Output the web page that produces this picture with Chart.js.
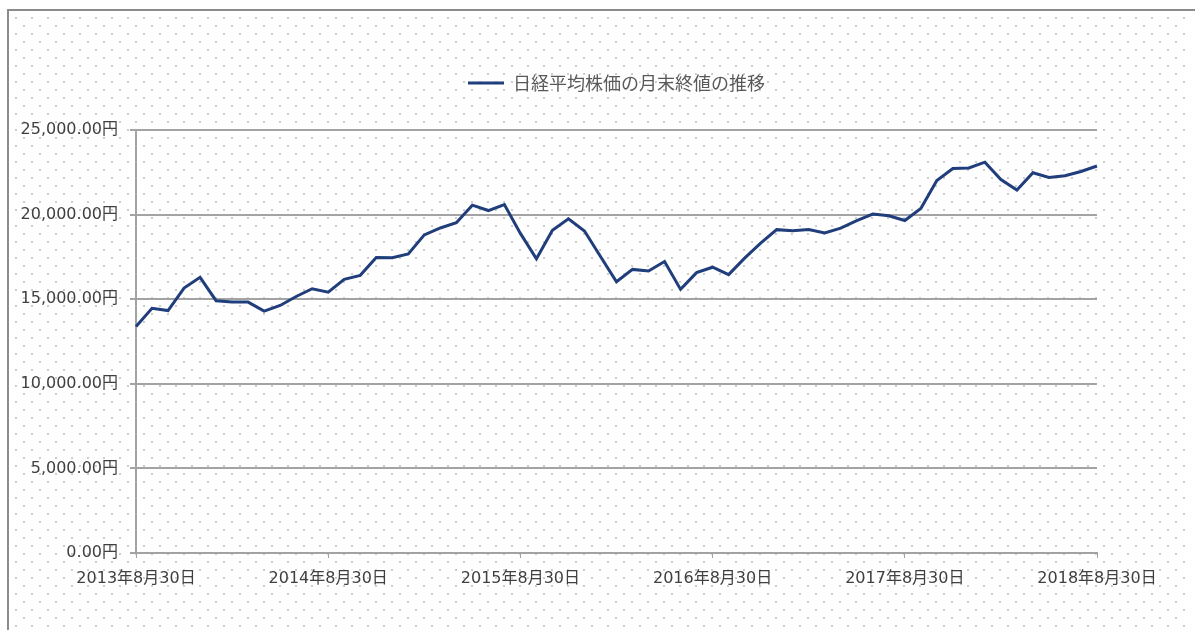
<!DOCTYPE html>
<html lang="ja">
<head>
<meta charset="utf-8">
<script src="https://cdn.jsdelivr.net/npm/chart.js@4.4.1/dist/chart.umd.min.js"></script>
<style>
html, body { margin: 0; padding: 0; background: #fff; overflow: hidden; }
#wrap { width: 1195px; height: 630px; position: relative; }
</style>
</head>
<body>
<div id="wrap"><canvas id="chart" width="1195" height="630"></canvas></div>
<script>
// monthly closes, Aug 2013 .. Aug 2018
const seriesLabel = '日経平均株価の月末終値の推移';
const closes2013 = [13390, 14460, 14330, 15660, 16290];
const closes2014 = [14910, 14840, 14830, 14300, 14630, 15160, 15620, 15420, 16170, 16410, 17460, 17450];
const closes2015 = [17670, 18800, 19210, 19520, 20560, 20240, 20590, 18890, 17390, 19080, 19750, 19030];
const closes2016 = [17520, 16030, 16760, 16670, 17230, 15580, 16570, 16890, 16450, 17430, 18310, 19110];
const closes2017 = [19040, 19120, 18910, 19200, 19650, 20030, 19930, 19650, 20360, 22010, 22720, 22760];
const closes2018 = [23100, 22070, 21450, 22470, 22200, 22300, 22550, 22870];
const tickLabels = ['2013年8月30日', '2014年8月30日', '2015年8月30日', '2016年8月30日', '2017年8月30日', '2018年8月30日'];

const values = [].concat(closes2013, closes2014, closes2015, closes2016, closes2017, closes2018);

// one category per month end
const categories = [];
for (let i = 0; i < values.length; i++) {
    const m = 7 + i;
    categories.push((2013 + Math.floor(m / 12)) + '年' + (m % 12 + 1) + '月');
}

const tickFont = { family: "'DejaVu Sans', 'Noto Sans CJK JP', sans-serif", size: 16 };
const gridGray = '#a3a3a3';

// excel-like dotted backdrop and frame
const backdrop = {
    id: 'backdrop',
    beforeLayout(chart) {
        // leave a gap under the legend, like the excel chart
        const lg = chart.legend;
        if (lg && !lg._gapPatched) {
            const fit = lg.fit;
            lg.fit = function () {
                fit.call(this);
                this.height += 28;
            };
            lg._gapPatched = true;
        }
    },
    beforeDraw(chart) {
        const { ctx, width, height } = chart;
        ctx.save();
        ctx.fillStyle = '#ffffff';
        ctx.fillRect(0, 0, width, height);
        ctx.fillStyle = '#cdcdcd';
        for (let y = 17; y < height; y += 16) {
            for (let x = 15; x < width; x += 16) ctx.fillRect(x, y, 2, 2);
        }
        for (let y = 25; y < height; y += 16) {
            for (let x = 23; x < width; x += 16) ctx.fillRect(x - 16 < 9 ? x : x - 16, y, 2, 2);
        }
        ctx.fillStyle = '#8c8c8c';
        ctx.fillRect(7, 9, width, 2);
        ctx.fillRect(7, 9, 2, height);
        ctx.restore();
    }
};

new Chart(document.getElementById('chart').getContext('2d'), {
    type: 'line',
    data: {
        labels: categories,
        datasets: [{
            label: seriesLabel,
            data: values,
            borderColor: '#203d7c',
            backgroundColor: '#203d7c',
            borderWidth: 3,
            pointRadius: 0,
            tension: 0
        }]
    },
    options: {
        responsive: false,
        animation: false,
        layout: { padding: { top: 46, left: 0, right: 98, bottom: 0 } },
        plugins: {
            legend: {
                position: 'top',
                fullSize: false,
                labels: {
                    usePointStyle: true,
                    pointStyle: 'line',
                    pointStyleWidth: 36,
                    padding: 28,
                    color: '#595959',
                    font: { family: "'Noto Sans CJK JP', sans-serif", size: 18 }
                }
            },
            tooltip: { enabled: false }
        },
        scales: {
            x: {
                afterFit(scale) { scale.height = 77; },
                grid: {
                    drawOnChartArea: false,
                    drawTicks: true,
                    tickLength: 5,
                    color: gridGray
                },
                border: { color: gridGray, width: 2 },
                ticks: {
                    autoSkip: false,
                    maxRotation: 0,
                    padding: 11,
                    color: '#404040',
                    font: tickFont,
                    callback: (v, i) => (i % 12 === 0 ? tickLabels[i / 12] : null)
                }
            },
            y: {
                min: 0,
                max: 25000,
                afterFit(scale) { scale.width = 136; },
                grid: {
                    color: gridGray,
                    lineWidth: 2,
                    tickLength: 6
                },
                border: { color: gridGray, width: 2 },
                ticks: {
                    stepSize: 5000,
                    padding: 12,
                    color: '#404040',
                    font: tickFont,
                    callback: v => v.toLocaleString('en-US', { minimumFractionDigits: 2, maximumFractionDigits: 2 }) + '円'
                }
            }
        }
    },
    plugins: [backdrop]
});
</script>
</body>
</html>
